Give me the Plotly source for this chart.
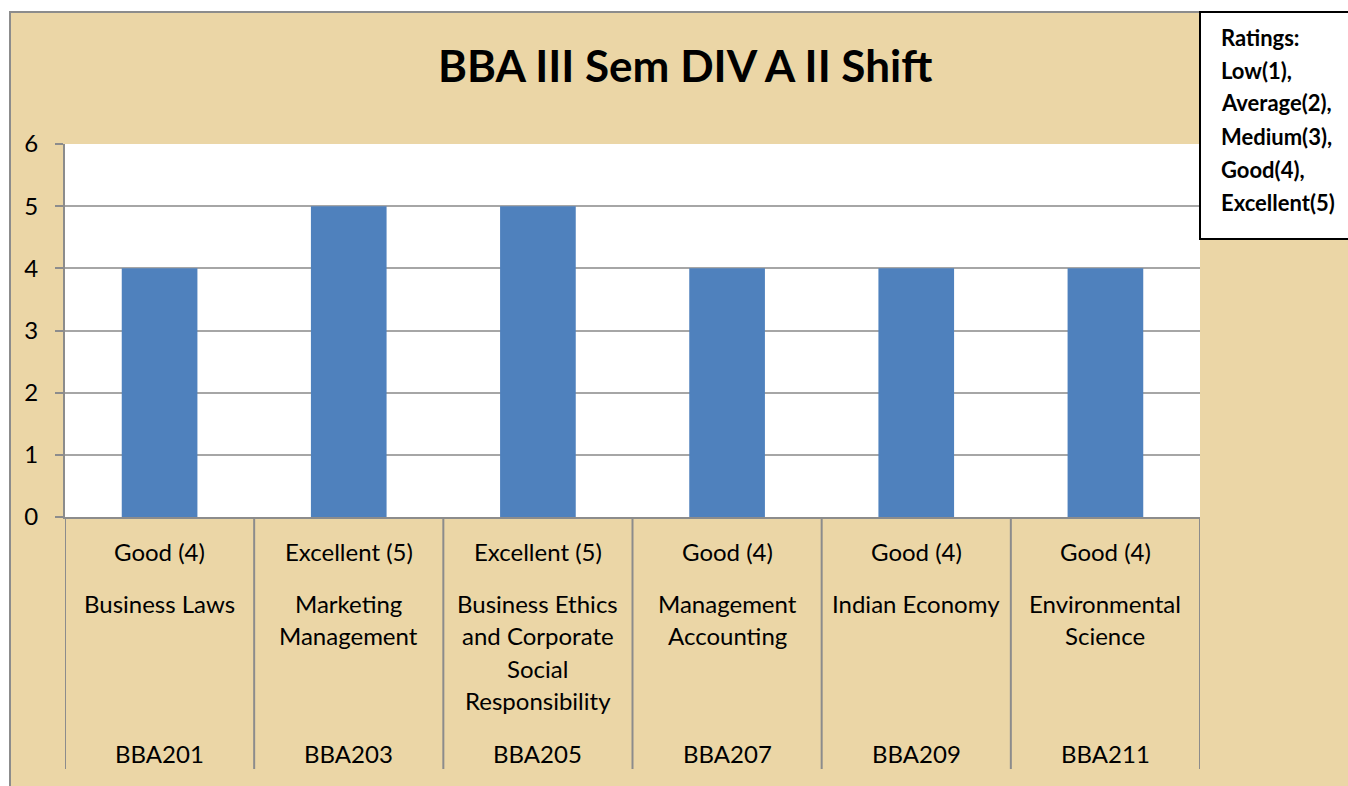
import plotly.graph_objects as go

# ---- data ----
course_codes = ["BBA201", "BBA203", "BBA205", "BBA207", "BBA209", "BBA211"]
subject_lines = [
    ["Business Laws"],
    ["Marketing", "Management"],
    ["Business Ethics", "and Corporate", "Social", "Responsibility"],
    ["Management", "Accounting"],
    ["Indian Economy"],
    ["Environmental", "Science"],
]
rating_labels = ["Good (4)", "Excellent (5)", "Excellent (5)", "Good (4)", "Good (4)", "Good (4)"]
ratings = [4, 5, 5, 4, 4, 4]
y_ticks = [0, 1, 2, 3, 4, 5, 6]
title_text = "BBA III Sem DIV A II Shift"
legend_lines = ["Ratings:", "Low(1),", "Average(2),", "Medium(3),", "Good(4),", "Excellent(5)"]

# ---- geometry (pixels) ----
W, H = 1348, 786
L, R, T, B = 65, 1200, 144, 517
PW, PH = R - L, B - T

def px(x):
    return (x - L) / PW

def py(y):
    return (B - y) / PH

FONT = "Lato"
BG = "#EBD6A6"
LBL = 24
xs = list(range(len(course_codes)))

fig = go.Figure()
fig.add_trace(go.Bar(
    x=xs, y=ratings, width=0.4,
    marker=dict(color="#4F81BD", line=dict(width=0)),
    hoverinfo="skip",
))

shapes = []
shapes.append(dict(type="rect", xref="paper", yref="paper",
                   x0=px(10), x1=px(1360), y0=py(12), y1=py(800),
                   fillcolor=BG, line=dict(color="#8C8C8C", width=2), layer="below"))
shapes.append(dict(type="rect", xref="paper", yref="paper",
                   x0=0, x1=1, y0=0, y1=1,
                   fillcolor="white", line=dict(width=0), layer="below"))
for i in range(len(course_codes) + 1):
    shapes.append(dict(type="line", xref="x", yref="paper",
                       x0=i - 0.5, x1=i - 0.5, y0=0, y1=py(769),
                       line=dict(color="#8C8C8C", width=2)))
shapes.append(dict(type="rect", xref="paper", yref="paper",
                   x0=px(1200), x1=px(1360), y0=py(12), y1=py(239),
                   fillcolor="white", line=dict(color="black", width=2)))

annotations = []
for i in xs:
    annotations.append(dict(x=i, xref="x", y=py(551), yref="paper",
                            text=rating_labels[i], showarrow=False,
                            font=dict(family=FONT, size=LBL, color="black"),
                            xanchor="center", yanchor="middle"))
    for j, line in enumerate(subject_lines[i]):
        annotations.append(dict(x=i, xref="x", y=py(603 + 32.5 * j), yref="paper",
                                text=line, showarrow=False,
                                font=dict(family=FONT, size=LBL, color="black"),
                                xanchor="center", yanchor="middle"))
    annotations.append(dict(x=i, xref="x", y=py(753), yref="paper",
                            text=course_codes[i], showarrow=False,
                            font=dict(family=FONT, size=LBL, color="black"),
                            xanchor="center", yanchor="middle"))

for j, line in enumerate(legend_lines):
    annotations.append(dict(x=px(1219), xref="paper", y=py(37 + 33 * j), yref="paper",
                            text="<b>" + line + "</b>", showarrow=False,
                            font=dict(family=FONT, size=22, color="black"),
                            xanchor="left", yanchor="middle"))

annotations.append(dict(x=px(685), xref="paper", y=py(65), yref="paper",
                        text="<b>" + title_text + "</b>", showarrow=False,
                        font=dict(family=FONT, size=44, color="black"),
                        xanchor="center", yanchor="middle"))

fig.update_layout(
    width=W, height=H,
    margin=dict(l=L, r=W - R, t=T, b=H - B, pad=0),
    paper_bgcolor="white",
    plot_bgcolor="rgba(0,0,0,0)",
    showlegend=False,
    shapes=shapes,
    annotations=annotations,
    xaxis=dict(range=[-0.5, len(course_codes) - 0.5], showticklabels=False,
               showgrid=False, zeroline=False, ticks="",
               showline=True, linecolor="#8C8C8C", linewidth=2, fixedrange=True),
    yaxis=dict(range=[0, 6], tickvals=y_ticks, ticktext=[str(v) for v in y_ticks],
               showgrid=True, gridcolor="#A6A6A6", gridwidth=1.5,
               zeroline=False, showline=True, linecolor="#8C8C8C", linewidth=2,
               ticks="outside", ticklen=8, tickcolor="#8C8C8C", tickwidth=2,
               ticklabelstandoff=12,
               tickfont=dict(family=FONT, size=LBL, color="black"), fixedrange=True),
    bargap=0.6,
)

fig.write_html("out.html", config={"displayModeBar": False},
               post_script="document.body.style.margin='0px';document.body.style.overflow='hidden';")
